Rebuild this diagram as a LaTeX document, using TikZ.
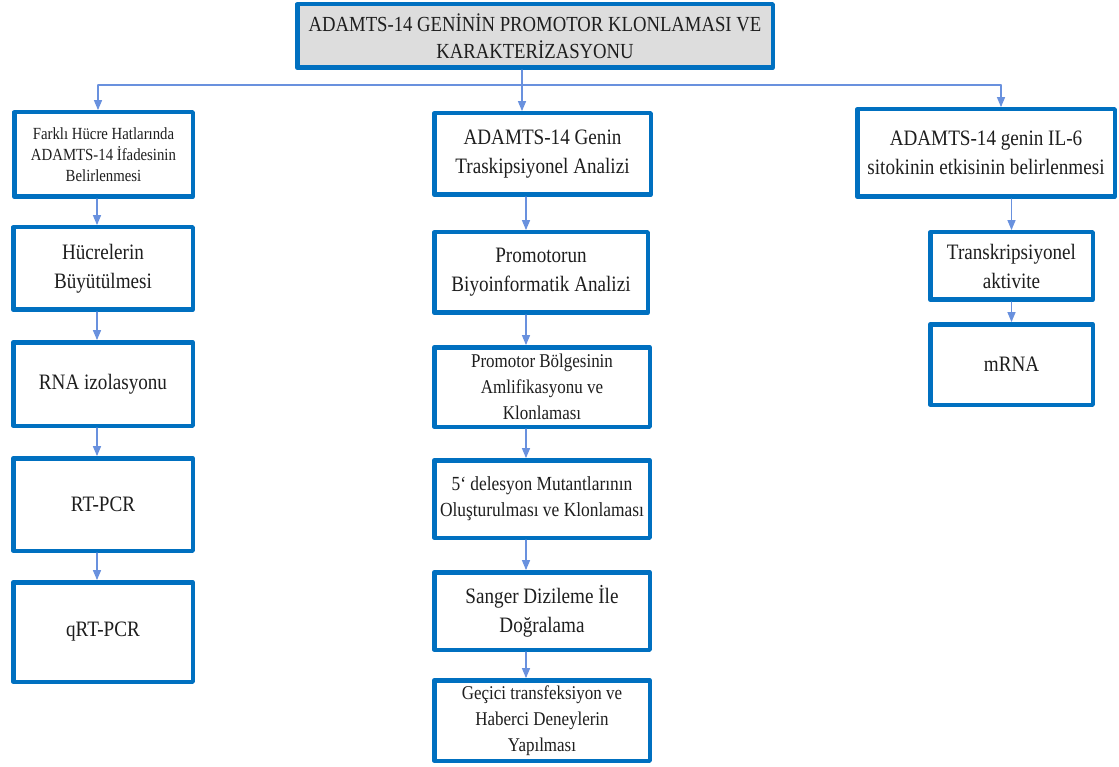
\documentclass[tikz,border=0pt]{standalone}
\usepackage{fontspec}
\setmainfont{Liberation Serif}[FakeStretch=0.87]
\usepackage[usenames]{xcolor}
\usepackage{tikz}
\usetikzlibrary{arrows}
\definecolor{boxblue}{RGB}{0,112,192}
\definecolor{linkblue}{RGB}{105,145,222}
\definecolor{titlegray}{RGB}{221,221,221}
\definecolor{txtgray}{RGB}{30,30,30}
\tikzset{
  stepnode/.style={draw=boxblue,line width=4.5pt,fill=white,align=center,inner sep=2pt,text=txtgray,font=\fontsize{22}{29}\selectfont},
  smalltext/.style={font=\fontsize{19.5}{26}\selectfont},
  tinytext/.style={font=\fontsize{17}{21}\selectfont},
  link/.style={draw=linkblue,line width=1.3pt}
}
\begin{document}
\begin{tikzpicture}[line cap=round,line join=round,>=triangle 45,x=1pt,y=-1pt]
\useasboundingbox (0,0) rectangle (1119,767);
\node[stepnode,fill=titlegray,minimum width=475.5,minimum height=63.5,font=\fontsize{21.5}{27}\selectfont] (title) at (535,36) {ADAMTS-14 GENİNİN PROMOTOR KLONLAMASI VE\\KARAKTERİZASYONU};
\node[stepnode,tinytext,minimum width=178.5,minimum height=84.5] (L1) at (103.5,154.5) {Farklı Hücre Hatlarında\\ADAMTS-14 İfadesinin\\Belirlenmesi};
\node[stepnode,minimum width=179.5,minimum height=82.5] (L2) at (103,268.5) {Hücrelerin\\Büyütülmesi};
\node[stepnode,minimum width=179.5,minimum height=83.5] (L3) at (103,384) {RNA izolasyonu};
\node[stepnode,minimum width=179.5,minimum height=92.5] (L4) at (103,504.5) {RT-PCR};
\node[stepnode,minimum width=179.5,minimum height=99.5] (L5) at (103,632) {qRT-PCR};
\node[stepnode,minimum width=216.5,minimum height=81.5] (M1) at (542.5,154) {ADAMTS-14 Genin\\Traskipsiyonel Analizi};
\node[stepnode,minimum width=213.5,minimum height=80.5] (M2) at (541,272.5) {Promotorun\\Biyoinformatik Analizi};
\node[stepnode,smalltext,minimum width=215.5,minimum height=79.5] (M3) at (542,387) {Promotor Bölgesinin\\Amlifikasyonu ve\\Klonlaması};
\node[stepnode,minimum width=215.5,minimum height=77.5,font=\fontsize{20}{26}\selectfont] (M4) at (542,499) {5`{} delesyon Mutantlarının\\Oluşturulması ve Klonlaması};
\node[stepnode,minimum width=215.5,minimum height=77.5] (M5) at (542,611) {Sanger Dizileme İle\\Doğralama};
\node[stepnode,smalltext,minimum width=215.5,minimum height=80.5] (M6) at (542,720.5) {Geçici transfeksiyon ve\\Haberci Deneylerin\\Yapılması};
\node[stepnode,minimum width=257.5,minimum height=87.5] (R1) at (986,153) {ADAMTS-14 genin IL-6\\sitokinin etkisinin belirlenmesi};
\node[stepnode,minimum width=162.5,minimum height=67.5] (R2) at (1011.5,266) {Transkripsiyonel\\aktivite};
\node[stepnode,minimum width=162.5,minimum height=80.5] (R3) at (1011.5,364.5) {mRNA};
\coordinate (busL) at (98,85);
\coordinate (busR) at (1001,85);
\coordinate (lx) at (97,0);
\coordinate (mx) at (526,0);
\draw[link] (busL) -- (busR);
\draw[link,->] (busL) -- (busL |- L1.north);
\draw[link,->] (busR) -- (busR |- R1.north);
\draw[link,->] (title.south -| 522,0) -- (M1.north -| 522,0);
\draw[link,->] (L1.south -| lx) -- (L2.north -| lx);
\draw[link,->] (L2.south -| lx) -- (L3.north -| lx);
\draw[link,->] (L3.south -| lx) -- (L4.north -| lx);
\draw[link,->] (L4.south -| lx) -- (L5.north -| lx);
\draw[link,->] (M1.south -| mx) -- (M2.north -| mx);
\draw[link,->] (M2.south -| mx) -- (M3.north -| mx);
\draw[link,->] (M3.south -| mx) -- (M4.north -| mx);
\draw[link,->] (M4.south -| mx) -- (M5.north -| mx);
\draw[link,->] (M5.south -| mx) -- (M6.north -| mx);
\draw[link,->] (R1.south -| R2) -- (R2.north);
\draw[link,->] (R2.south) -- (R3.north);
\end{tikzpicture}
\end{document}
